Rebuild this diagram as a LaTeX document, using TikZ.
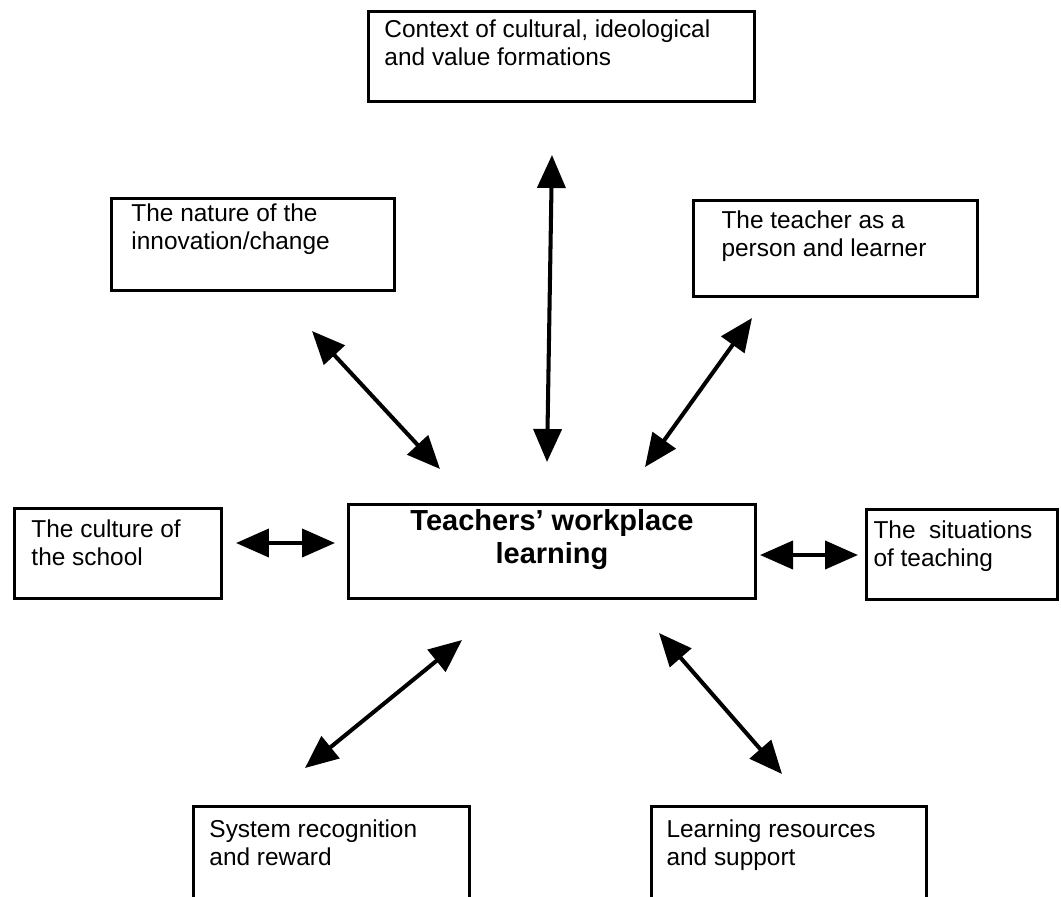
\documentclass[tikz,border=0pt]{standalone}
\usepackage{fontspec}
\setmainfont{Liberation Sans}
\usetikzlibrary{arrows.meta}

% one drawing unit = one pixel of the layout grid
\newlength\upx
\setlength\upx{0.02cm}

% framed box with its text set at the top left
% #1 name, #2 x, #3 y (top left), #4 width, #5 height, #6 left inset, #7 top inset, #8 text
\newcommand{\topleftbox}[8]{%
  \node[frame, inner xsep=#6\upx, inner ysep=#7\upx] (#1) at (#2,#3)
  {\begin{minipage}[t][\dimexpr #5\upx-#7\upx-#7\upx\relax][t]{\dimexpr #4\upx-#6\upx-#6\upx\relax}\raggedright #8\end{minipage}};}

\begin{document}
\begin{tikzpicture}[x=0.02cm, y=-0.02cm,
  frame/.style={draw, line width=1.7pt, anchor=north west,
    font=\fontsize{13.9}{16}\selectfont},
  link/.style={line width=2.3pt,
    {Triangle[length=0.66cm,width=0.56cm]}-{Triangle[length=0.66cm,width=0.56cm]}}]
\useasboundingbox (0,0) rectangle (1061,896);
\clip (0,0) rectangle (1061,896);

% surrounding influences
\topleftbox{ctx}{367}{10}{386}{90}{16}{8}{Context of cultural, ideological\\and value formations}
\topleftbox{nat}{110}{197}{283}{92}{20}{5}{The nature of the\\innovation/change}
\topleftbox{tch}{692}{199}{284}{96}{28}{10}{The teacher as a\\person and learner}
\topleftbox{cul}{13}{507}{207}{90}{17}{11}{The culture of\\the school}
\topleftbox{sit}{865}{508}{191}{90}{7}{11}{The\ \ situations\\of teaching}
\topleftbox{sys}{192}{805}{276}{120}{16}{13}{System recognition\\and reward}
\topleftbox{lrn}{650}{805}{275}{120}{15}{13}{Learning resources\\and support}

% central box
\node[frame, font=\bfseries\fontsize{16.5}{19}\selectfont, inner xsep=0pt, inner ysep=5\upx] (ctr) at (347,503)
  {\begin{minipage}[t][\dimexpr 94\upx-10\upx\relax][t]{407\upx}\centering Teachers’ workplace\\learning\end{minipage}};

% arrow end points
\coordinate (ctxA) at (552,155);  \coordinate (ctxB) at (547,462);
\coordinate (natA) at (312,331);  \coordinate (natB) at (440,469);
\coordinate (tchA) at (752,318);  \coordinate (tchB) at (645,467);
\coordinate (culA) at (236,543);  \coordinate (culB) at (335,543);
\coordinate (sitA) at (760,555);  \coordinate (sitB) at (858,555);
\coordinate (sysA) at (462,640);  \coordinate (sysB) at (305,768);
\coordinate (lrnA) at (659,633);  \coordinate (lrnB) at (782,774);

% two-way links
\draw[link] (ctxA) -- (ctxB);
\draw[link] (natA) -- (natB);
\draw[link] (tchA) -- (tchB);
\draw[link] (culA) -- (culB);
\draw[link] (sitA) -- (sitB);
\draw[link] (sysA) -- (sysB);
\draw[link] (lrnA) -- (lrnB);
\end{tikzpicture}
\end{document}
